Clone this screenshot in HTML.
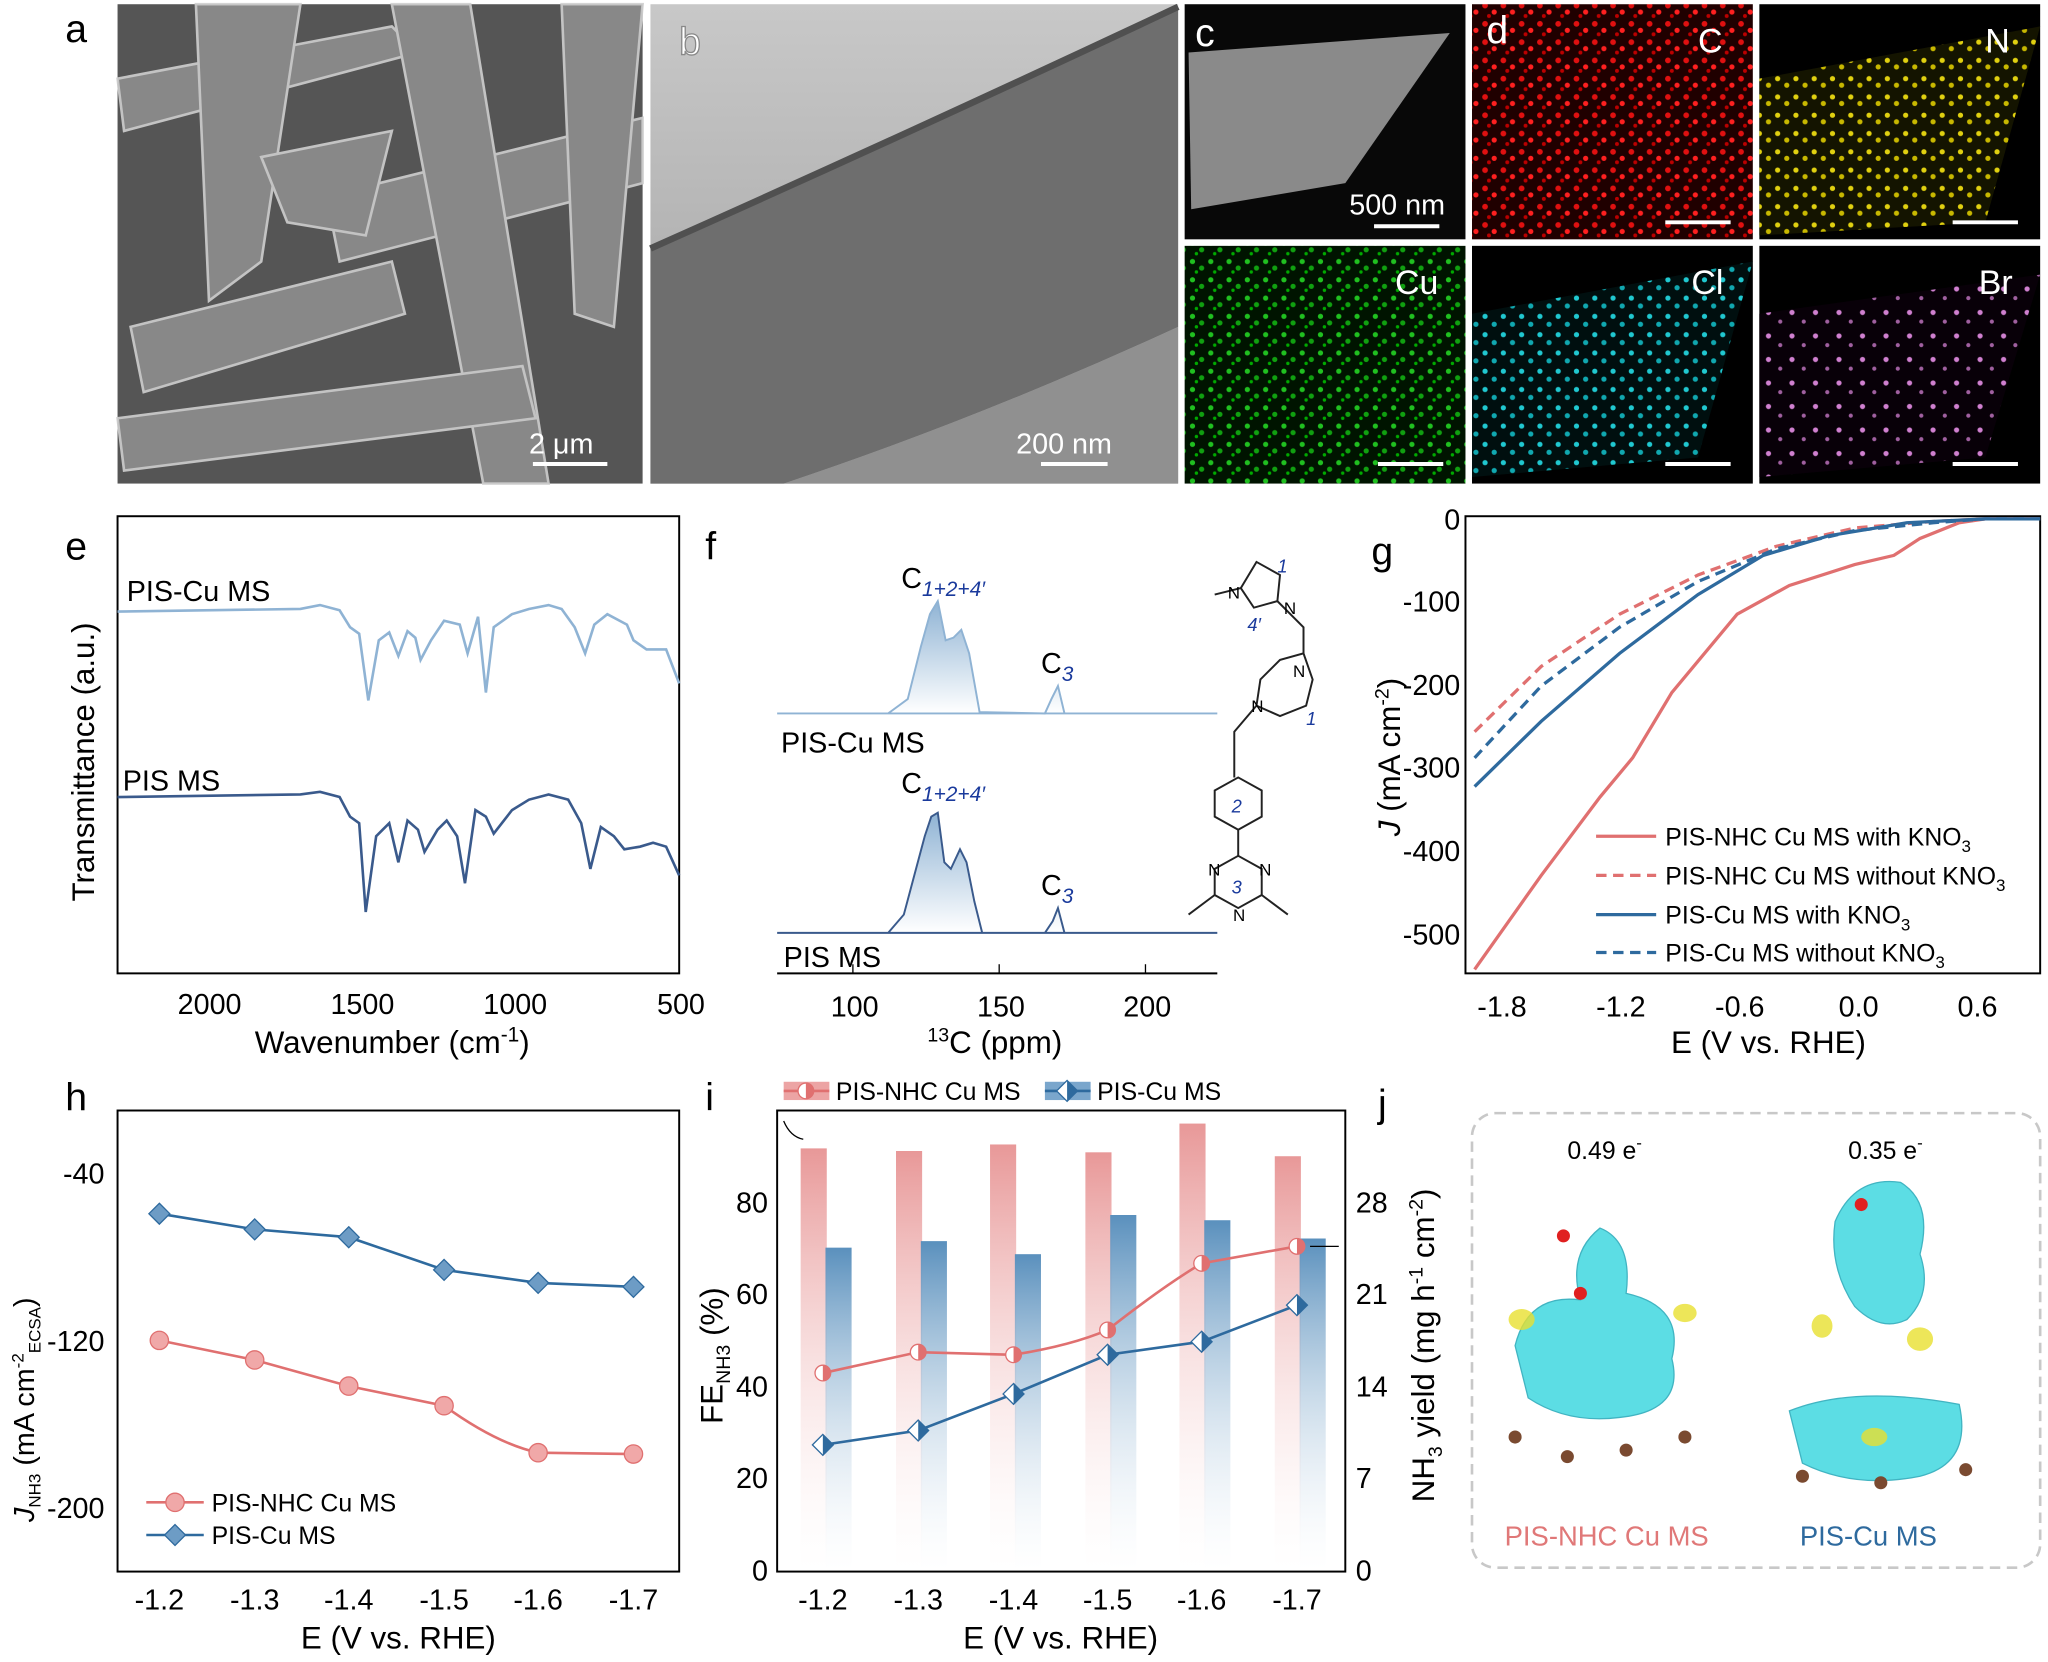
<!DOCTYPE html>
<html><head><meta charset="utf-8"><style>html,body{margin:0;padding:0;background:#fff}svg{display:block}</style></head><body>
<svg width="2048" height="1662" viewBox="0 0 1568 1272" xmlns="http://www.w3.org/2000/svg" font-family="Liberation Sans, sans-serif">
<defs>
<pattern id="pr" width="14" height="14" patternUnits="userSpaceOnUse"><rect width="14" height="14" fill="#200000"/><circle cx="3" cy="4" r="2.2" fill="#e01010"/><circle cx="10" cy="9" r="2" fill="#ff2020"/><circle cx="6" cy="12" r="1.5" fill="#b00"/></pattern>
<pattern id="py" width="14" height="14" patternUnits="userSpaceOnUse"><rect width="14" height="14" fill="#141400"/><circle cx="3" cy="4" r="2" fill="#e0d010"/><circle cx="10" cy="9" r="2" fill="#c8b800"/></pattern>
<pattern id="pg" width="14" height="14" patternUnits="userSpaceOnUse"><rect width="14" height="14" fill="#001400"/><circle cx="3" cy="4" r="2" fill="#20c020"/><circle cx="10" cy="9" r="2" fill="#10a010"/><circle cx="6" cy="12" r="1.3" fill="#0a0"/></pattern>
<pattern id="pc" width="14" height="14" patternUnits="userSpaceOnUse"><rect width="14" height="14" fill="#000f0f"/><circle cx="3" cy="4" r="2" fill="#20c8d0"/><circle cx="10" cy="10" r="2" fill="#10a8b0"/></pattern>
<pattern id="pp" width="18" height="18" patternUnits="userSpaceOnUse"><rect width="18" height="18" fill="#080008"/><circle cx="4" cy="5" r="2" fill="#d080d0"/><circle cx="13" cy="12" r="1.6" fill="#a060a0"/></pattern>
<linearGradient id="gr" x1="0" y1="0" x2="0" y2="1"><stop offset="0" stop-color="#e89898"/><stop offset="1" stop-color="#fff" stop-opacity="0.2"/></linearGradient>
<linearGradient id="gb" x1="0" y1="0" x2="0" y2="1"><stop offset="0" stop-color="#5a90bd"/><stop offset="1" stop-color="#fff" stop-opacity="0.2"/></linearGradient>
<linearGradient id="gf" x1="0" y1="0" x2="0" y2="1"><stop offset="0" stop-color="#8fb3d4"/><stop offset="1" stop-color="#fff"/></linearGradient>
<linearGradient id="gtem" x1="0" y1="0" x2="0" y2="1"><stop offset="0" stop-color="#c8c8c8"/><stop offset="1" stop-color="#a0a0a0"/></linearGradient>
</defs>
<g font-size="30" fill="#000">
<text x="50" y="32">a</text><text x="50" y="428">e</text><text x="540" y="428">f</text><text x="1050" y="432">g</text>
<text x="50" y="850">h</text><text x="540" y="850">i</text><text x="1055" y="855">j</text>
</g>
<!-- a SEM -->
<rect x="90" y="3" width="402" height="367" fill="#555"/>
<g fill="#8e8e8e" stroke="#d0d0d0" stroke-width="2" opacity="0.9">
<path d="M90 60 L300 20 L320 40 L95 100Z"/><path d="M150 3 L230 3 L200 200 L160 230Z"/><path d="M250 150 L492 90 L492 140 L260 200Z"/>
<path d="M100 250 L300 200 L310 240 L110 300Z"/><path d="M300 3 L360 3 L420 370 L370 370Z"/><path d="M90 320 L400 280 L410 320 L95 360Z"/>
<path d="M430 3 L492 3 L470 250 L440 240Z"/><path d="M200 120 L300 100 L280 180 L220 170Z"/>
</g>
<line x1="408" y1="355" x2="465" y2="355" stroke="#fff" stroke-width="3"/><text x="405" y="347" font-size="22" fill="#fff">2 μm</text>
<!-- b TEM -->
<rect x="498" y="3" width="404" height="367" fill="url(#gtem)"/>
<path d="M498 190 Q700 100 902 5 L902 250 Q750 320 600 370 L498 370Z" fill="#6e6e6e"/>
<path d="M498 190 Q700 100 902 5" stroke="#505050" stroke-width="5" fill="none"/>
<path d="M600 370 Q750 320 902 250 L902 370Z" fill="#909090"/>
<text x="520" y="42" font-size="30" fill="#fff" stroke="#888" stroke-width="1">b</text>
<line x1="797" y1="355" x2="848" y2="355" stroke="#fff" stroke-width="3"/><text x="778" y="347" font-size="22" fill="#fff">200 nm</text>
<!-- c-d maps -->
<rect x="907" y="3" width="215" height="180" fill="#080808"/>
<path d="M910 40 L1110 25 L1030 140 L912 160Z" fill="#8a8a8a"/>
<text x="915" y="35" font-size="30" fill="#fff">c</text>
<line x1="1052" y1="173" x2="1102" y2="173" stroke="#fff" stroke-width="3"/><text x="1033" y="164" font-size="22" fill="#fff">500 nm</text>
<rect x="1127" y="3" width="215" height="180" fill="url(#pr)"/><text x="1138" y="33" font-size="30" fill="#fff">d</text><text x="1300" y="40" font-size="26" fill="#fff">C</text>
<line x1="1275" y1="170" x2="1325" y2="170" stroke="#fff" stroke-width="3"/>
<rect x="1347" y="3" width="215" height="180" fill="#000"/><path d="M1347 60 L1562 20 L1520 170 L1347 180Z" fill="url(#py)"/><text x="1520" y="40" font-size="26" fill="#fff">N</text>
<line x1="1495" y1="170" x2="1545" y2="170" stroke="#fff" stroke-width="3"/>
<rect x="907" y="188" width="215" height="182" fill="url(#pg)"/><text x="1068" y="225" font-size="26" fill="#fff">Cu</text>
<line x1="1055" y1="355" x2="1105" y2="355" stroke="#fff" stroke-width="3"/>
<rect x="1127" y="188" width="215" height="182" fill="#000"/><path d="M1127 240 L1342 200 L1300 350 L1127 365Z" fill="url(#pc)"/><text x="1295" y="225" font-size="26" fill="#fff">Cl</text>
<line x1="1275" y1="355" x2="1325" y2="355" stroke="#fff" stroke-width="3"/>
<rect x="1347" y="188" width="215" height="182" fill="#000"/><path d="M1347 240 L1562 210 L1520 350 L1347 365Z" fill="url(#pp)"/><text x="1515" y="225" font-size="26" fill="#fff">Br</text>
<line x1="1495" y1="355" x2="1545" y2="355" stroke="#fff" stroke-width="3"/>

<g font-size="22" fill="#000">
<!-- e -->
<rect x="90" y="395" width="430" height="350" fill="none" stroke="#000" stroke-width="1.5"/>
<path d="M90 468 L230 466 L245 463 L260 467 L268 480 L275 485 L282 536 L290 490 L298 484 L305 502 L312 483 L318 488 L322 505 L330 490 L340 475 L352 478 L358 500 L366 472 L372 530 L378 480 L392 470 L405 466 L420 463 L430 466 L440 480 L448 500 L455 478 L465 470 L480 478 L485 490 L495 497 L510 497 L520 523" fill="none" stroke="#8fb3d4" stroke-width="2"/>
<path d="M90 610 L230 608 L245 606 L260 610 L268 625 L275 630 L280 698 L288 640 L298 630 L305 660 L312 628 L320 635 L325 652 L335 635 L342 628 L350 640 L356 676 L364 620 L372 625 L378 638 L392 620 L405 612 L420 608 L435 612 L445 630 L452 665 L460 633 L470 640 L478 650 L490 648 L500 645 L510 648 L520 670" fill="none" stroke="#3a5a8c" stroke-width="2"/>
<text x="97" y="460">PIS-Cu MS</text><text x="94" y="605">PIS MS</text>
<text x="136" y="776">2000</text><text x="253" y="776">1500</text><text x="370" y="776">1000</text><text x="503" y="776">500</text>
<text x="195" y="806" font-size="24">Wavenumber (cm<tspan dy="-9" font-size="16">-1</tspan><tspan dy="9">)</tspan></text>
<text transform="translate(72 690) rotate(-90)" font-size="24">Transmittance (a.u.)</text>
<!-- f -->
<line x1="595" y1="745" x2="932" y2="745" stroke="#000" stroke-width="1.5"/>
<g stroke="#000"><line x1="653" y1="745" x2="653" y2="738"/><line x1="765" y1="745" x2="765" y2="738"/><line x1="877" y1="745" x2="877" y2="738"/></g>
<path d="M595 546 L680 546 L695 535 L705 495 L712 470 L718 460 L724 490 L730 488 L736 482 L742 500 L750 545 L800 546 L805 535 L810 525 L815 546 L932 546Z" fill="url(#gf)" stroke="#8fb3d4" stroke-width="1.5"/>
<path d="M595 714 L680 714 L692 700 L700 670 L708 640 L713 625 L718 622 L723 660 L728 665 L735 650 L740 660 L746 690 L752 714 L800 714 L806 705 L810 695 L815 714 L932 714Z" fill="url(#gf)" stroke="#3a5a8c" stroke-width="1.5"/>
<text x="690" y="450">C<tspan font-size="16" font-style="italic" fill="#1a3a9c" dy="6">1+2+4′</tspan></text>
<text x="797" y="515">C<tspan font-size="16" font-style="italic" fill="#1a3a9c" dy="6">3</tspan></text>
<text x="690" y="607">C<tspan font-size="16" font-style="italic" fill="#1a3a9c" dy="6">1+2+4′</tspan></text>
<text x="797" y="685">C<tspan font-size="16" font-style="italic" fill="#1a3a9c" dy="6">3</tspan></text>
<text x="598" y="576">PIS-Cu MS</text><text x="600" y="740">PIS MS</text>
<text x="636" y="778">100</text><text x="748" y="778">150</text><text x="860" y="778">200</text>
<text x="710" y="806" font-size="24"><tspan font-size="15" dy="-9">13</tspan><tspan dy="9">C (ppm)</tspan></text>
<g fill="none" stroke="#222" stroke-width="1.5">
<path d="M962 430 L980 440 L978 460 L960 465 L950 450Z"/><path d="M978 460 L998 480 L998 500 L980 505 L965 520 L962 540 L980 548 L1000 540 L1005 520 L998 500"/>
<path d="M962 540 L945 560 L945 595"/><path d="M930 605 L948 595 L966 605 L966 625 L948 635 L930 625Z"/>
<path d="M948 635 L948 655"/><path d="M930 665 L948 655 L966 665 L966 685 L948 695 L930 685Z"/><path d="M930 685 L910 700 M966 685 L986 700 M950 450 L930 455"/>
</g>
<g font-size="14" fill="#1a3a9c" font-style="italic"><text x="978" y="438">1</text><text x="955" y="483">4′</text><text x="1000" y="555">1</text><text x="943" y="622">2</text><text x="943" y="684">3</text></g>
<g font-size="13"><text x="940" y="458">N</text><text x="983" y="470">N</text><text x="990" y="518">N</text><text x="958" y="545">N</text><text x="925" y="670">N</text><text x="964" y="670">N</text><text x="944" y="705">N</text></g>
<!-- g -->
<rect x="1122" y="395" width="440" height="350" fill="none" stroke="#000" stroke-width="1.5"/>
<path d="M1129 742 L1180 670 L1225 610 L1250 580 L1280 530 L1330 470 L1370 448 L1420 432 L1450 425 L1470 412 L1500 400 L1520 397 L1562 397" fill="none" stroke="#e07070" stroke-width="2.5"/>
<path d="M1129 560 L1180 510 L1240 470 L1300 440 L1360 418 L1420 404 L1480 399 L1520 397 L1562 397" fill="none" stroke="#e07070" stroke-width="2.5" stroke-dasharray="8 5"/>
<path d="M1129 602 L1180 552 L1240 500 L1300 455 L1350 425 L1400 410 L1460 400 L1520 397 L1562 397" fill="none" stroke="#2e6a9e" stroke-width="2.5"/>
<path d="M1129 580 L1180 525 L1240 480 L1300 445 L1360 420 L1420 406 L1480 400 L1520 397 L1562 397" fill="none" stroke="#2e6a9e" stroke-width="2.5" stroke-dasharray="8 5"/>
<g text-anchor="end"><text x="1118" y="405">0</text><text x="1118" y="468">-100</text><text x="1118" y="532">-200</text><text x="1118" y="595">-300</text><text x="1118" y="659">-400</text><text x="1118" y="723">-500</text></g>
<g text-anchor="middle"><text x="1150" y="778">-1.8</text><text x="1241" y="778">-1.2</text><text x="1332" y="778">-0.6</text><text x="1423" y="778">0.0</text><text x="1514" y="778">0.6</text></g>
<text x="1354" y="806" font-size="24" text-anchor="middle">E (V vs. RHE)</text>
<text transform="translate(1072 640) rotate(-90)" font-size="24"><tspan font-style="italic">J</tspan> (mA cm<tspan dy="-9" font-size="15">-2</tspan><tspan dy="9">)</tspan></text>
<g font-size="19">
<line x1="1222" y1="640" x2="1268" y2="640" stroke="#e07070" stroke-width="2.5"/><text x="1275" y="647">PIS-NHC Cu MS with KNO<tspan font-size="13" dy="5">3</tspan></text>
<line x1="1222" y1="670" x2="1268" y2="670" stroke="#e07070" stroke-width="2.5" stroke-dasharray="8 5"/><text x="1275" y="677">PIS-NHC Cu MS without KNO<tspan font-size="13" dy="5">3</tspan></text>
<line x1="1222" y1="700" x2="1268" y2="700" stroke="#2e6a9e" stroke-width="2.5"/><text x="1275" y="707">PIS-Cu MS with KNO<tspan font-size="13" dy="5">3</tspan></text>
<line x1="1222" y1="729" x2="1268" y2="729" stroke="#2e6a9e" stroke-width="2.5" stroke-dasharray="8 5"/><text x="1275" y="736">PIS-Cu MS without KNO<tspan font-size="13" dy="5">3</tspan></text>
</g>
<!-- h -->
<rect x="90" y="850" width="430" height="353" fill="none" stroke="#000" stroke-width="1.5"/>
<path d="M122 929 L195 941 L267 947 L340 972 L412 982 L485 985" fill="none" stroke="#2e6a9e" stroke-width="2"/>
<path d="M122 1026 L195 1041 L267 1061 L340 1076 Q380 1105 412 1112 L485 1113" fill="none" stroke="#e07070" stroke-width="2"/>
<g fill="#6d9cc5" stroke="#2e6a9e"><path d="M122 921 l8 8 l-8 8 l-8 -8Z"/><path d="M195 933 l8 8 l-8 8 l-8 -8Z"/><path d="M267 939 l8 8 l-8 8 l-8 -8Z"/><path d="M340 964 l8 8 l-8 8 l-8 -8Z"/><path d="M412 974 l8 8 l-8 8 l-8 -8Z"/><path d="M485 977 l8 8 l-8 8 l-8 -8Z"/></g>
<g fill="#f0a8a8" stroke="#e07070"><circle cx="122" cy="1026" r="7"/><circle cx="195" cy="1041" r="7"/><circle cx="267" cy="1061" r="7"/><circle cx="340" cy="1076" r="7"/><circle cx="412" cy="1112" r="7"/><circle cx="485" cy="1113" r="7"/></g>
<g text-anchor="end"><text x="80" y="906">-40</text><text x="80" y="1034">-120</text><text x="80" y="1162">-200</text></g>
<g text-anchor="middle"><text x="122" y="1232">-1.2</text><text x="195" y="1232">-1.3</text><text x="267" y="1232">-1.4</text><text x="340" y="1232">-1.5</text><text x="412" y="1232">-1.6</text><text x="485" y="1232">-1.7</text></g>
<text x="305" y="1262" font-size="24" text-anchor="middle">E (V vs. RHE)</text>
<text transform="translate(26 1165) rotate(-90)" font-size="22"><tspan font-style="italic">J</tspan><tspan font-size="13" dy="5">NH3</tspan><tspan dy="-5"> (mA cm</tspan><tspan dy="-8" font-size="13">-2</tspan><tspan dy="13" font-size="13">ECSA</tspan><tspan dy="-5">)</tspan></text>
<line x1="112" y1="1150" x2="156" y2="1150" stroke="#e07070" stroke-width="2"/><circle cx="134" cy="1150" r="7" fill="#f0a8a8" stroke="#e07070"/><text x="162" y="1157" font-size="19">PIS-NHC Cu MS</text>
<line x1="112" y1="1175" x2="156" y2="1175" stroke="#2e6a9e" stroke-width="2"/><path d="M134 1167 l8 8 l-8 8 l-8 -8Z" fill="#6d9cc5" stroke="#2e6a9e"/><text x="162" y="1182" font-size="19">PIS-Cu MS</text>
<!-- i -->
<g>
<rect x="613" y="879" width="20" height="323" fill="url(#gr)"/><rect x="632" y="955" width="20" height="247" fill="url(#gb)"/>
<rect x="686" y="881" width="20" height="321" fill="url(#gr)"/><rect x="705" y="950" width="20" height="252" fill="url(#gb)"/>
<rect x="758" y="876" width="20" height="326" fill="url(#gr)"/><rect x="777" y="960" width="20" height="242" fill="url(#gb)"/>
<rect x="831" y="882" width="20" height="320" fill="url(#gr)"/><rect x="850" y="930" width="20" height="272" fill="url(#gb)"/>
<rect x="903" y="860" width="20" height="342" fill="url(#gr)"/><rect x="922" y="934" width="20" height="268" fill="url(#gb)"/>
<rect x="976" y="885" width="20" height="317" fill="url(#gr)"/><rect x="995" y="948" width="20" height="254" fill="url(#gb)"/>
</g>
<rect x="595" y="850" width="435" height="353" fill="none" stroke="#000" stroke-width="1.5"/>
<path d="M630 1051 L703 1035 L776 1037 Q820 1030 848 1018 Q890 985 920 967 L993 954" fill="none" stroke="#e07070" stroke-width="2"/>
<path d="M630 1106 L703 1095 L776 1067 L848 1037 L920 1027 L993 999" fill="none" stroke="#2e6a9e" stroke-width="2"/>
<g stroke="#e07070" fill="#fff"><circle cx="630" cy="1051" r="6"/><circle cx="703" cy="1035" r="6"/><circle cx="776" cy="1037" r="6"/><circle cx="848" cy="1018" r="6"/><circle cx="920" cy="967" r="6"/><circle cx="993" cy="954" r="6"/></g>
<g fill="#e07070"><path d="M630 1045 a6 6 0 0 1 0 12Z"/><path d="M703 1029 a6 6 0 0 1 0 12Z"/><path d="M776 1031 a6 6 0 0 1 0 12Z"/><path d="M848 1012 a6 6 0 0 1 0 12Z"/><path d="M920 961 a6 6 0 0 1 0 12Z"/><path d="M993 948 a6 6 0 0 1 0 12Z"/></g>
<g stroke="#2e6a9e" fill="#fff"><path d="M630 1098 l8 8 l-8 8 l-8 -8Z"/><path d="M703 1087 l8 8 l-8 8 l-8 -8Z"/><path d="M776 1059 l8 8 l-8 8 l-8 -8Z"/><path d="M848 1029 l8 8 l-8 8 l-8 -8Z"/><path d="M920 1019 l8 8 l-8 8 l-8 -8Z"/><path d="M993 991 l8 8 l-8 8 l-8 -8Z"/></g>
<g fill="#2e6a9e"><path d="M630 1098 l8 8 l-8 8Z"/><path d="M703 1087 l8 8 l-8 8Z"/><path d="M776 1059 l8 8 l-8 8Z"/><path d="M848 1029 l8 8 l-8 8Z"/><path d="M920 1019 l8 8 l-8 8Z"/><path d="M993 991 l8 8 l-8 8Z"/></g>
<path d="M600 858 Q605 870 615 872" fill="none" stroke="#000"/><path d="M1003 954 L1025 954" stroke="#000"/>
<g text-anchor="end"><text x="588" y="1210">0</text><text x="588" y="1139">20</text><text x="588" y="1069">40</text><text x="588" y="998">60</text><text x="588" y="928">80</text></g>
<g><text x="1038" y="1210">0</text><text x="1038" y="1139">7</text><text x="1038" y="1069">14</text><text x="1038" y="998">21</text><text x="1038" y="928">28</text></g>
<g text-anchor="middle"><text x="630" y="1232">-1.2</text><text x="703" y="1232">-1.3</text><text x="776" y="1232">-1.4</text><text x="848" y="1232">-1.5</text><text x="920" y="1232">-1.6</text><text x="993" y="1232">-1.7</text></g>
<text x="812" y="1262" font-size="24" text-anchor="middle">E (V vs. RHE)</text>
<text transform="translate(553 1090) rotate(-90)" font-size="24">FE<tspan font-size="15" dy="6">NH3</tspan><tspan dy="-6"> (%)</tspan></text>
<text transform="translate(1098 1150) rotate(-90)" font-size="24">NH<tspan font-size="15" dy="6">3</tspan><tspan dy="-6"> yield (mg h</tspan><tspan font-size="15" dy="-9">-1</tspan><tspan dy="9"> cm</tspan><tspan font-size="15" dy="-9">-2</tspan><tspan dy="9">)</tspan></text>
<rect x="600" y="828" width="35" height="14" fill="#eca4a4"/><line x1="600" y1="835" x2="635" y2="835" stroke="#e07070" stroke-width="2"/><circle cx="617" cy="835" r="6" fill="#fff" stroke="#e07070"/><path d="M617 829 a6 6 0 0 1 0 12Z" fill="#e07070"/><text x="640" y="842" font-size="19">PIS-NHC Cu MS</text>
<rect x="800" y="828" width="35" height="14" fill="#7aa6cc"/><line x1="800" y1="835" x2="835" y2="835" stroke="#2e6a9e" stroke-width="2"/><path d="M817 827 l8 8 l-8 8 l-8 -8Z" fill="#fff" stroke="#2e6a9e"/><path d="M817 827 l8 8 l-8 8Z" fill="#2e6a9e"/><text x="840" y="842" font-size="19">PIS-Cu MS</text>
<!-- j -->
<rect x="1127" y="852" width="435" height="348" rx="18" fill="none" stroke="#c8c8c8" stroke-width="2" stroke-dasharray="8 5"/>
<text x="1200" y="887" font-size="19">0.49 e<tspan font-size="13" dy="-8">-</tspan></text><text x="1415" y="887" font-size="19">0.35 e<tspan font-size="13" dy="-8">-</tspan></text>
<g fill="#40d8e0" stroke="#20a8b8" opacity="0.85">
<path d="M1160 1030 Q1170 990 1210 995 Q1200 960 1225 940 Q1250 950 1245 990 Q1290 1000 1280 1040 Q1290 1080 1240 1085 Q1200 1090 1170 1070Z"/>
<path d="M1405 935 Q1420 900 1455 905 Q1480 920 1470 960 Q1480 990 1460 1010 Q1440 1020 1420 1000 Q1400 970 1405 935Z"/>
<path d="M1370 1080 Q1420 1060 1500 1075 Q1510 1120 1470 1130 Q1420 1140 1380 1120Z"/>
</g>
<g fill="#e8e030" opacity="0.8"><ellipse cx="1165" cy="1010" rx="10" ry="8"/><ellipse cx="1290" cy="1005" rx="9" ry="7"/><ellipse cx="1470" cy="1025" rx="10" ry="9"/><ellipse cx="1395" cy="1015" rx="8" ry="9"/><ellipse cx="1435" cy="1100" rx="10" ry="7"/></g>
<g fill="#7a4a30"><circle cx="1160" cy="1100" r="5"/><circle cx="1200" cy="1115" r="5"/><circle cx="1245" cy="1110" r="5"/><circle cx="1290" cy="1100" r="5"/><circle cx="1380" cy="1130" r="5"/><circle cx="1440" cy="1135" r="5"/><circle cx="1505" cy="1125" r="5"/></g>
<g fill="#e02020"><circle cx="1197" cy="946" r="5"/><circle cx="1210" cy="990" r="5"/><circle cx="1425" cy="922" r="5"/></g>
<text x="1152" y="1183" font-size="21" fill="#e07878">PIS-NHC Cu MS</text><text x="1378" y="1183" font-size="21" fill="#2e6a9e">PIS-Cu MS</text>
</g>
</svg>
</body></html>
